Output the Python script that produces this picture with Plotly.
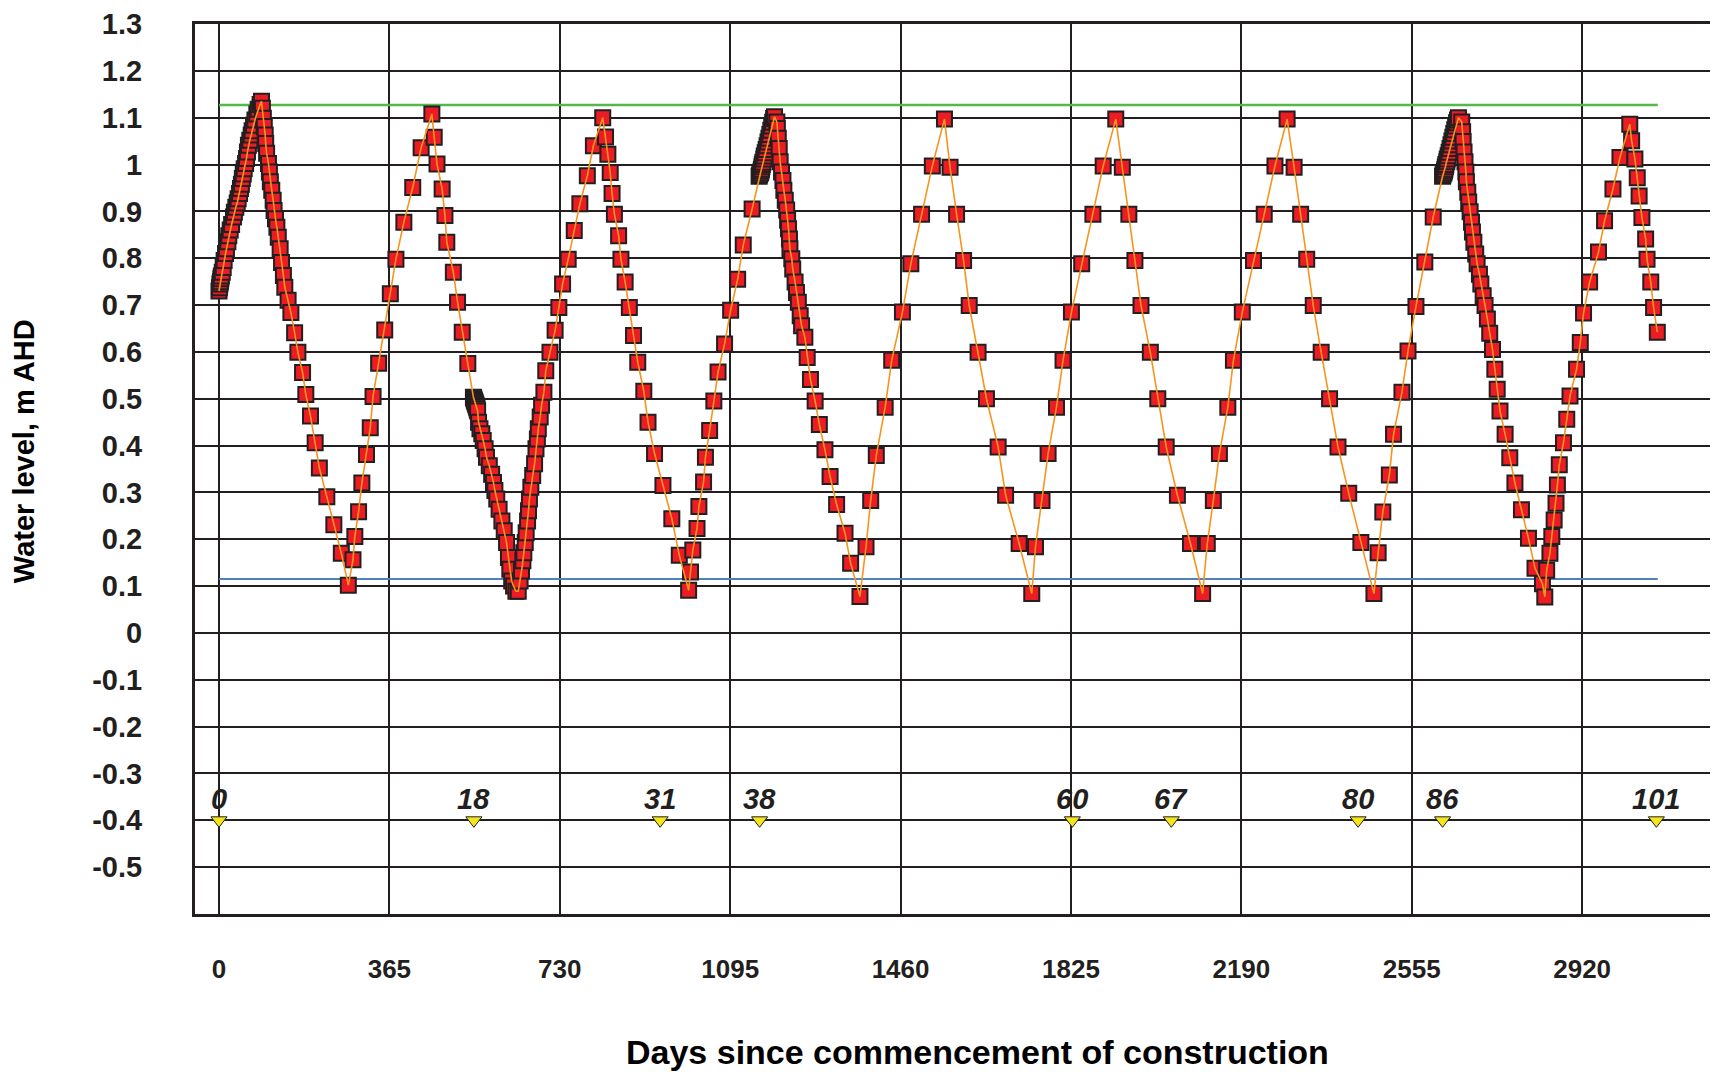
import plotly.graph_objects as go

# ---------------- data ----------------
# days since commencement of construction and water level (m AHD), in plotting order
days_a = [0, 1, 2, 3, 4, 5, 7, 9, 11, 14, 16, 19, 21, 24, 27, 31, 33, 36, 39, 41, 44, 46, 48, 50,
          52, 54, 57, 59, 61, 63, 66, 69, 71, 74, 77, 81, 84, 88, 91]
level_a = [0.730, 0.737, 0.745, 0.750, 0.756, 0.762, 0.770, 0.780, 0.795, 0.810, 0.820, 0.835, 0.848,
           0.860, 0.872, 0.888, 0.898, 0.909, 0.918, 0.927, 0.938, 0.949, 0.958, 0.970, 0.980, 0.991,
           1.002, 1.013, 1.027, 1.041, 1.052, 1.063, 1.072, 1.084, 1.095, 1.108, 1.118, 1.128, 1.135]

days_b = [93, 95, 97, 99, 100, 102, 106, 108, 110, 113, 116, 118, 121, 124, 127, 131, 134, 138, 141,
          148, 154, 162, 169, 179, 186, 196, 206, 215, 231, 246, 262, 277]
level_b = [1.120, 1.099, 1.081, 1.063, 1.045, 1.024, 1.002, 0.984, 0.963, 0.945, 0.924, 0.902, 0.884,
           0.866, 0.845, 0.820, 0.791, 0.763, 0.738, 0.710, 0.684, 0.641, 0.599, 0.556, 0.509, 0.463,
           0.406, 0.352, 0.291, 0.231, 0.170, 0.102]

days_c = [287, 291, 299, 306, 316, 324, 330, 342, 355, 367, 379, 396, 415, 433, 456]
level_c = [0.156, 0.206, 0.259, 0.320, 0.381, 0.438, 0.505, 0.576, 0.647, 0.724, 0.798, 0.877, 0.951,
           1.036, 1.108]

days_d = [461, 467, 478, 484, 488, 502, 511, 521, 533, 545, 546, 547, 548, 549, 550, 551, 552, 553,
          554, 556, 559, 563, 566, 570, 573, 579, 584, 588, 591, 595, 600, 606, 611, 616, 620, 623,
          627, 631, 636]
level_d = [1.058, 1.001, 0.948, 0.891, 0.834, 0.770, 0.706, 0.642, 0.575, 0.503, 0.500, 0.497, 0.494,
           0.491, 0.488, 0.485, 0.482, 0.478, 0.474, 0.450, 0.436, 0.425, 0.411, 0.393, 0.375, 0.357,
           0.339, 0.321, 0.304, 0.286, 0.264, 0.239, 0.218, 0.193, 0.161, 0.136, 0.111, 0.100, 0.089]

days_e = [641, 645, 648, 651, 653, 656, 658, 661, 663, 665, 668, 672, 676, 679, 682, 684, 688, 691,
          696, 700, 709, 720, 728, 736, 748, 761, 773, 789, 802, 822]
level_e = [0.089, 0.111, 0.132, 0.154, 0.171, 0.193, 0.214, 0.239, 0.261, 0.286, 0.311, 0.336, 0.361,
           0.393, 0.414, 0.436, 0.461, 0.486, 0.514, 0.560, 0.599, 0.646, 0.695, 0.745, 0.798, 0.859,
           0.916, 0.976, 1.040, 1.100]

days_f = [828, 833, 838, 842, 847, 856, 861, 870, 879, 888, 897, 910, 919, 933, 951, 970, 986, 1006]
level_f = [1.059, 1.022, 0.983, 0.938, 0.894, 0.848, 0.798, 0.749, 0.695, 0.635, 0.578, 0.516, 0.450,
           0.383, 0.315, 0.244, 0.166, 0.091]

days_g = [1010, 1015, 1024, 1028, 1038, 1042, 1051, 1060, 1069, 1083, 1096, 1111, 1123, 1142, 1157,
          1158, 1160, 1161, 1162, 1163, 1164, 1165, 1167, 1168, 1170, 1172, 1174, 1176, 1178, 1180,
          1182, 1184, 1186, 1188, 1190]
level_g = [0.130, 0.177, 0.223, 0.270, 0.322, 0.375, 0.432, 0.495, 0.557, 0.617, 0.689, 0.755, 0.828,
           0.905, 0.975, 0.978, 0.982, 0.986, 0.990, 0.995, 1.000, 1.005, 1.012, 1.018, 1.025, 1.032,
           1.040, 1.048, 1.056, 1.064, 1.073, 1.082, 1.090, 1.098, 1.102]

days_h = [1195, 1196, 1198, 1200, 1202, 1205, 1208, 1210, 1213, 1216, 1218, 1220, 1222, 1223, 1227,
          1229, 1234, 1237, 1241, 1245, 1248, 1255, 1260, 1267, 1277, 1286, 1298, 1309, 1323, 1341,
          1353, 1373]
level_h = [1.091, 1.077, 1.056, 1.034, 1.006, 0.984, 0.966, 0.945, 0.924, 0.903, 0.881, 0.863, 0.841,
           0.820, 0.799, 0.777, 0.749, 0.727, 0.706, 0.677, 0.656, 0.631, 0.588, 0.541, 0.495, 0.445,
           0.391, 0.334, 0.274, 0.213, 0.149, 0.078]

days_i = [1386, 1396, 1408, 1427, 1441, 1464, 1482, 1505, 1528, 1554,
          1566, 1580, 1595, 1607, 1626, 1644, 1669, 1685, 1714, 1741]
level_i = [0.184, 0.283, 0.379, 0.482, 0.582, 0.685, 0.788, 0.894, 0.997, 1.097,
           0.994, 0.894, 0.795, 0.699, 0.599, 0.500, 0.397, 0.294, 0.191, 0.084]

days_j = [1749, 1763, 1776, 1794, 1808, 1826, 1848, 1872, 1894, 1921,
          1935, 1949, 1962, 1975, 1995, 2011, 2029, 2053, 2081, 2107]
level_j = [0.184, 0.283, 0.383, 0.482, 0.582, 0.685, 0.788, 0.894, 0.997, 1.097,
           0.994, 0.894, 0.795, 0.699, 0.599, 0.500, 0.397, 0.294, 0.191, 0.084]

days_k = [2117, 2130, 2143, 2161, 2173, 2192, 2216, 2239, 2262, 2288,
          2303, 2317, 2330, 2344, 2361, 2379, 2397, 2420, 2446, 2474]
level_k = [0.191, 0.283, 0.383, 0.482, 0.582, 0.685, 0.795, 0.894, 0.997, 1.097,
           0.994, 0.894, 0.798, 0.699, 0.599, 0.500, 0.397, 0.298, 0.193, 0.084]

days_l = [2483, 2493, 2507, 2516, 2534, 2547, 2564, 2583, 2601, 2621, 2622, 2624, 2625, 2626, 2627,
          2628, 2630, 2631, 2633, 2635, 2637, 2639, 2641, 2643, 2645, 2647, 2649, 2651, 2653, 2655]
level_l = [0.171, 0.258, 0.337, 0.424, 0.514, 0.602, 0.697, 0.792, 0.888, 0.975, 0.978, 0.982, 0.986,
           0.990, 0.995, 1.000, 1.006, 1.012, 1.019, 1.026, 1.034, 1.042, 1.050, 1.058, 1.066, 1.074,
           1.082, 1.089, 1.095, 1.100]

days_m = [2662, 2664, 2665, 2667, 2669, 2671, 2672, 2675, 2677, 2680, 2683, 2685, 2688, 2692, 2695,
          2700, 2703, 2708, 2712, 2717, 2722, 2728, 2733, 2738, 2744, 2755, 2765, 2776, 2790, 2805,
          2819, 2835, 2840]
level_m = [1.091, 1.070, 1.049, 1.027, 1.006, 0.984, 0.963, 0.941, 0.920, 0.899, 0.877, 0.856, 0.834,
           0.809, 0.788, 0.766, 0.745, 0.720, 0.699, 0.670, 0.640, 0.605, 0.563, 0.520, 0.474, 0.424,
           0.374, 0.320, 0.263, 0.202, 0.138, 0.105, 0.077]

days_n = [2844, 2851, 2855, 2860, 2864, 2867, 2871, 2880, 2887, 2894, 2908, 2916, 2923, 2936, 2955,
          2968, 2986, 3001, 3022, 3026, 3033, 3038, 3042, 3048, 3056, 3059, 3067, 3073, 3081]
level_n = [0.134, 0.170, 0.206, 0.241, 0.277, 0.316, 0.359, 0.406, 0.456, 0.506, 0.563, 0.620, 0.683,
           0.749, 0.813, 0.880, 0.948, 1.015, 1.086, 1.051, 1.012, 0.972, 0.933, 0.887, 0.841, 0.798,
           0.749, 0.695, 0.642]

# reference levels (upper = green, lower = blue)
ref_days = [0, 3082]
upper_level = 1.127
lower_level = 0.115

# event markers along the bottom
event_days = [0, 546, 945, 1158, 1828, 2040, 2440, 2621, 3079]
event_labels = ["0", "18", "31", "38", "60", "67", "80", "86", "101"]
event_level = -0.4

# axis ticks
x_ticks = [0, 365, 730, 1095, 1460, 1825, 2190, 2555, 2920]
y_ticks = [1.3, 1.2, 1.1, 1.0, 0.9, 0.8, 0.7, 0.6, 0.5, 0.4, 0.3, 0.2, 0.1, 0.0,
           -0.1, -0.2, -0.3, -0.4, -0.5]
y_ticktext = ["1.3", "1.2", "1.1", "1", "0.9", "0.8", "0.7", "0.6", "0.5", "0.4", "0.3", "0.2",
              "0.1", "0", "-0.1", "-0.2", "-0.3", "-0.4", "-0.5"]

# ---------------- figure ----------------
days = (days_a + days_b + days_c + days_d + days_e + days_f + days_g + days_h + days_i + days_j
        + days_k + days_l + days_m + days_n)
level = (level_a + level_b + level_c + level_d + level_e + level_f + level_g + level_h + level_i
         + level_j + level_k + level_l + level_m + level_n)

FONT = "Liberation Sans, Arial, Helvetica, sans-serif"
INK = "#231f20"

fig = go.Figure()
fig.add_trace(go.Scatter(x=ref_days, y=[upper_level] * 2, mode="lines",
                         line=dict(color="#55b84a", width=2.5), hoverinfo="skip"))
fig.add_trace(go.Scatter(x=ref_days, y=[lower_level] * 2, mode="lines",
                         line=dict(color="#4f81bd", width=2), hoverinfo="skip"))
fig.add_trace(go.Scatter(x=days, y=level, mode="markers",
                         marker=dict(symbol="square", size=15, color="#ec1c24",
                                     line=dict(color=INK, width=2))))
fig.add_trace(go.Scatter(x=days, y=level, mode="lines",
                         line=dict(color="#f7941d", width=1.6)))
fig.add_trace(go.Scatter(x=event_days, y=[event_level] * len(event_days), mode="markers",
                         marker=dict(symbol="triangle-down", size=14, color="#f5e61c",
                                     line=dict(color=INK, width=1))))

event_annotations = [
    dict(text=lab, x=d, y=event_level, xref="x", yref="y", xanchor="center", yanchor="bottom",
         yshift=3, showarrow=False,
         font=dict(family=FONT, size=29, color=INK, style="italic", weight="bold"))
    for d, lab in zip(event_days, event_labels)
]

# the page body adds an 8 px margin, so the figure is 8 px smaller and offset accordingly
fig.update_layout(
    width=1710, height=1064,
    margin=dict(l=187, r=0, t=14, b=158),
    paper_bgcolor="white", plot_bgcolor="white",
    showlegend=False,
    font=dict(family=FONT, color=INK),
    annotations=event_annotations + [
        dict(text="Days since commencement of construction", xref="paper", yref="paper",
             x=0.5135, y=-0.1547, xanchor="center", yanchor="middle", showarrow=False,
             font=dict(family=FONT, size=34, color="black", weight="bold")),
        dict(text="Water level, m AHD", xref="paper", yref="paper",
             x=-0.1123, y=0.52, xanchor="center", yanchor="middle", showarrow=False,
             textangle=-90, font=dict(family=FONT, size=29, color="black", weight="bold")),
    ],
)
fig.update_xaxes(range=[-51.4, 3211], tickmode="array", tickvals=x_ticks,
                 showgrid=True, gridcolor=INK, gridwidth=2,
                 showline=True, linecolor=INK, linewidth=3, mirror=True,
                 ticks="", zeroline=False, ticklabelstandoff=30, ticklabeloverflow="allow",
                 tickfont=dict(family=FONT, size=26, color=INK, weight="bold"))
fig.update_yaxes(range=[-0.6, 1.3], tickmode="array", tickvals=y_ticks, ticktext=y_ticktext,
                 showgrid=True, gridcolor=INK, gridwidth=2,
                 showline=True, linecolor=INK, linewidth=3,
                 ticks="", zeroline=False, ticklabelstandoff=44, ticklabeloverflow="allow",
                 tickfont=dict(family=FONT, size=29, color=INK, weight="bold"))

fig.write_html("out.html")
